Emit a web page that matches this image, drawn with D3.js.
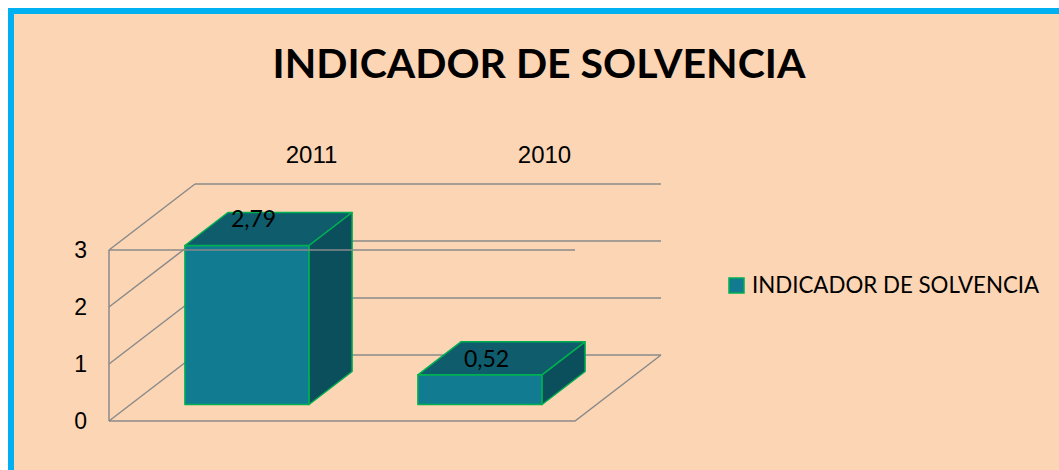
<!DOCTYPE html>
<html>
<head>
<meta charset="utf-8">
<script src="https://d3js.org/d3.v7.min.js"></script>
<style>
  body { margin: 0; background: #fff; }
</style>
</head>
<body>
<div id="chart"></div>
<script>
// data
var titleText = "INDICADOR DE SOLVENCIA";
var seriesName = "INDICADOR DE SOLVENCIA";
var years = ["2011", "2010"];
var values = [2.79, 0.52];
var labels = ["2,79", "0,52"];
var yTicks = [0, 1, 2, 3];

var svgWidth = 1059;
var svgHeight = 470;

var svg = d3.select("#chart")
  .append("svg")
  .attr("width", svgWidth)
  .attr("height", svgHeight);

// frame
svg.append("rect")
  .attr("x", 11).attr("y", 11)
  .attr("width", 1100).attr("height", 520)
  .attr("fill", "#FCD5B5")
  .attr("stroke", "#00B0F0")
  .attr("stroke-width", 6);

// title
svg.append("text")
  .attr("x", 539).attr("y", 78)
  .attr("text-anchor", "middle")
  .attr("font-family", "Lato, 'Open Sans', sans-serif")
  .attr("font-weight", "bold")
  .attr("font-size", 41)
  .text(titleText);

// 3d projection: front plane scales + depth offset
var depthX = 86, depthY = -66;

var xScale = d3.scaleBand()
  .domain(years)
  .range([109, 575]);

var yScale = d3.scaleLinear()
  .domain([0, 3])
  .range([421, 250]);

// label position scale (labels sit on the bar tops)
var yLabel = d3.scaleLinear()
  .domain([0, 3])
  .range([390.8, 205.7]);

function px(x, d) { return x + depthX * d; }
function py(y, d) { return y + depthY * d; }

var grid = svg.append("g")
  .attr("stroke", "#8A8A8A")
  .attr("stroke-width", 1.5)
  .attr("fill", "none");

var x0 = xScale.range()[0], x1 = xScale.range()[1];

// back wall gridlines
grid.selectAll(".back")
  .data(yTicks)
  .enter()
  .append("line")
  .attr("x1", px(x0, 1)).attr("x2", px(x1, 1))
  .attr("y1", d => py(yScale(d), 1))
  .attr("y2", d => py(yScale(d), 1));

// side wall gridlines
grid.selectAll(".side")
  .data(yTicks)
  .enter()
  .append("line")
  .attr("x1", x0).attr("x2", px(x0, 1))
  .attr("y1", d => yScale(d))
  .attr("y2", d => py(yScale(d), 1));

// side wall front edge
grid.append("line")
  .attr("x1", x0).attr("x2", x0)
  .attr("y1", yScale(0)).attr("y2", yScale(3));

// floor
grid.append("polyline")
  .attr("points", [
    [x0, yScale(0)],
    [x1, yScale(0)],
    [px(x1, 1), py(yScale(0), 1)]
  ].map(p => p.join(",")).join(" "));

// bars
var barW = xScale.bandwidth() * 0.533;
var dFront = 0.25, dBack = 0.75;

var bars = svg.selectAll(".bar")
  .data(values)
  .enter()
  .append("g")
  .attr("stroke", "#00B050")
  .attr("stroke-width", 1.5)
  .attr("stroke-linejoin", "round");

function pts(arr) { return arr.map(p => p.join(",")).join(" "); }

bars.each(function(v, i) {
  var g = d3.select(this);
  var xl = xScale(years[i]) + (xScale.bandwidth() - barW) / 2;
  var xr = xl + barW;
  var yb = yScale(0), yt = yScale(v);
  // front
  g.append("polygon")
    .attr("fill", "#117C91")
    .attr("points", pts([
      [px(xl, dFront), py(yt, dFront)], [px(xr, dFront), py(yt, dFront)],
      [px(xr, dFront), py(yb, dFront)], [px(xl, dFront), py(yb, dFront)]
    ]));
  // top
  g.append("polygon")
    .attr("fill", "#0E5C6C")
    .attr("points", pts([
      [px(xl, dFront), py(yt, dFront)], [px(xr, dFront), py(yt, dFront)],
      [px(xr, dBack), py(yt, dBack)], [px(xl, dBack), py(yt, dBack)]
    ]));
  // side
  g.append("polygon")
    .attr("fill", "#0B4F5C")
    .attr("points", pts([
      [px(xr, dFront), py(yt, dFront)], [px(xr, dBack), py(yt, dBack)],
      [px(xr, dBack), py(yb, dBack)], [px(xr, dFront), py(yb, dFront)]
    ]));
});

// front top line drawn over the bars
svg.append("line")
  .attr("x1", x0).attr("x2", x1)
  .attr("y1", yScale(3)).attr("y2", yScale(3))
  .attr("stroke", "#8A8A8A")
  .attr("stroke-width", 1.5);

// data labels
svg.selectAll(".lbl")
  .data(values)
  .enter()
  .append("text")
  .attr("x", (d, i) => px(xScale(years[i]) + xScale.bandwidth() / 2, dFront) + 6.5)
  .attr("y", d => yLabel(d) + 8)
  .attr("text-anchor", "middle")
  .attr("font-family", "Lato, 'Open Sans', sans-serif")
  .attr("font-size", 23)
  .attr("fill", "#000")
  .text((d, i) => labels[i]);

// y tick labels
svg.selectAll(".tick")
  .data(yTicks)
  .enter()
  .append("text")
  .attr("x", 87)
  .attr("y", d => yScale(d))
  .attr("dy", "0.35em")
  .attr("text-anchor", "end")
  .attr("font-family", "'Liberation Sans', Arial, sans-serif")
  .attr("font-size", 23)
  .text(d => d);

// category labels along the back
svg.selectAll(".cat")
  .data(years)
  .enter()
  .append("text")
  .attr("x", d => px(xScale(d) + xScale.bandwidth() / 2, 1))
  .attr("y", 163)
  .attr("text-anchor", "middle")
  .attr("font-family", "'Liberation Sans', Arial, sans-serif")
  .attr("font-size", 24)
  .text(d => d);

// legend
var legend = svg.append("g").attr("transform", "translate(729, 278)");
legend.append("rect")
  .attr("width", 15).attr("height", 15)
  .attr("fill", "#117C91")
  .attr("stroke", "#00B050")
  .attr("stroke-width", 1.5);
legend.append("text")
  .attr("x", 23).attr("y", 15)
  .attr("font-family", "Lato, 'Open Sans', sans-serif")
  .attr("font-size", 22.3)
  .text(seriesName);
</script>
</body>
</html>
